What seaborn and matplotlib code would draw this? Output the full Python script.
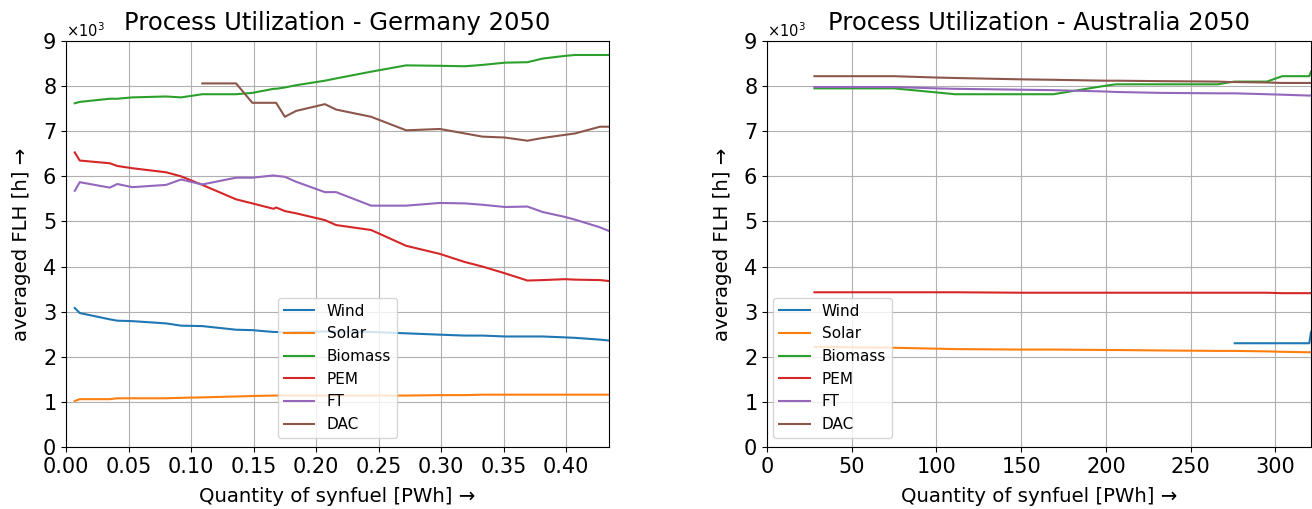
import numpy as np
import pandas as pd
import matplotlib
matplotlib.use("Agg")
import matplotlib.pyplot as plt
import matplotlib.ticker as mticker
import seaborn as sns

nan = np.nan
technologies = ["Wind", "Solar", "Biomass", "PEM", "FT", "DAC"]

# ---------------- Germany 2050 ----------------
x_de = [0.007, 0.011, 0.035, 0.041, 0.053, 0.080, 0.092, 0.109, 0.136, 0.149,
        0.166, 0.168, 0.175, 0.184, 0.207, 0.216, 0.244, 0.272, 0.299, 0.319,
        0.333, 0.351, 0.369, 0.381, 0.399, 0.407, 0.427, 0.434]
wind_de = [3080, 2970, 2830, 2800, 2790, 2740, 2690, 2680, 2600, 2590,
           2550, 2550, 2540, 2550, 2560, 2560, 2550, 2520, 2490, 2470,
           2470, 2450, 2450, 2450, 2430, 2420, 2380, 2360]
solar_de = [1020, 1060, 1060, 1080, 1080, 1080, 1090, 1100, 1120, 1130,
            1140, 1140, 1140, 1140, 1140, 1140, 1140, 1140, 1150, 1150,
            1160, 1160, 1160, 1160, 1160, 1160, 1160, 1160]
biomass_de = [7620, 7650, 7720, 7720, 7750, 7770, 7750, 7820, 7820, 7850,
              7940, 7940, 7970, 8020, 8120, 8170, 8320, 8460, 8450, 8440,
              8470, 8520, 8530, 8610, 8670, 8690, 8690, 8690]
pem_de = [6530, 6350, 6290, 6230, 6180, 6090, 6000, 5810, 5490, 5400,
          5280, 5310, 5230, 5180, 5030, 4920, 4810, 4460, 4280, 4100,
          4000, 3850, 3690, 3700, 3720, 3710, 3700, 3680]
ft_de = [5680, 5870, 5750, 5830, 5760, 5810, 5930, 5820, 5970, 5970,
         6020, 6010, 5990, 5880, 5650, 5650, 5350, 5350, 5410, 5400,
         5370, 5320, 5330, 5210, 5100, 5040, 4870, 4790]
dac_de = [nan, nan, nan, nan, nan, nan, nan, 8060, 8060, 7630,
          7630, 7630, 7320, 7450, 7600, 7480, 7320, 7020, 7050, 6950,
          6880, 6860, 6790, 6850, 6920, 6950, 7100, 7100]

# ---------------- Australia 2050 ----------------
x_au = [28, 75, 100, 111, 150, 169, 200, 206, 232, 266, 274, 276, 295, 304, 320, 321]
wind_au = [nan, nan, nan, nan, nan, nan, nan, nan, nan, nan, nan,
           2300, 2300, 2300, 2300, 2550]
solar_au = [2220, 2200, 2180, 2170, 2160, 2160, 2150, 2150, 2140, 2130, 2130,
            2130, 2120, 2110, 2100, 2100]
biomass_au = [7950, 7950, 7860, 7820, 7820, 7820, 8010, 8040, 8040, 8040, 8090,
              8100, 8100, 8220, 8220, 8320]
pem_au = [3430, 3430, 3430, 3430, 3420, 3420, 3420, 3420, 3420, 3420, 3420,
          3420, 3420, 3410, 3410, 3410]
ft_au = [7980, 7980, 7950, 7940, 7920, 7910, 7880, 7870, 7850, 7840, 7840,
         7840, 7820, 7810, 7790, 7790]
dac_au = [8220, 8220, 8190, 8180, 8150, 8140, 8120, 8120, 8110, 8100, 8090,
          8090, 8080, 8070, 8070, 8070]

titles = ["Process Utilization - Germany 2050", "Process Utilization - Australia 2050"]
xlabel = "Quantity of synfuel [PWh] \u2192"
ylabel = "averaged FLH [h] \u2192"


def long_frame(x, series):
    rows = []
    for tech, vals in zip(technologies, series):
        for xi, yi in zip(x, vals):
            if not np.isnan(yi):
                rows.append({"x": xi, "FLH": yi, "Technology": tech})
    return pd.DataFrame(rows)


df_de = long_frame(x_de, [wind_de, solar_de, biomass_de, pem_de, ft_de, dac_de])
df_au = long_frame(x_au, [wind_au, solar_au, biomass_au, pem_au, ft_au, dac_au])

plt.rcParams["font.family"] = ["DejaVu Sans"]
fig = plt.figure(figsize=(13.12, 5.09), dpi=100)
W, H = 1312, 509
ax1 = fig.add_axes([66 / W, 62 / H, 543 / W, 406 / H])
ax2 = fig.add_axes([767 / W, 62 / H, 544 / W, 406 / H])

palette = dict(zip(technologies, sns.color_palette("tab10", 6)))

for ax, df, title, xmax, xticks, legx in [
    (ax1, df_de, titles[0], 0.4342, np.arange(0, 0.41, 0.05), 0.390),
    (ax2, df_au, titles[1], 321, np.arange(0, 301, 50), 0.011),
]:
    sns.lineplot(data=df, x="x", y="FLH", hue="Technology", hue_order=technologies,
                 palette=palette, ax=ax, linewidth=1.5, errorbar=None)
    ax.set_xlim(0, xmax)
    ax.set_ylim(0, 9000)
    ax.set_xticks(xticks)
    ax.set_yticks(np.arange(0, 9001, 1000))
    if ax is ax1:
        ax.xaxis.set_major_formatter(mticker.FormatStrFormatter("%.2f"))
    fmt = mticker.ScalarFormatter(useMathText=True)
    fmt.set_powerlimits((3, 3))
    ax.yaxis.set_major_formatter(fmt)
    ax.yaxis.get_offset_text().set_fontsize(10.5)
    ax.tick_params(axis="both", labelsize=15)
    ax.grid(True, color="#b0b0b0", linewidth=0.8)
    ax.set_axisbelow(True)
    ax.set_title(title, fontsize=17.5, pad=8)
    ax.set_xlabel(xlabel, fontsize=14.2, labelpad=7.5)
    ax.set_ylabel(ylabel, fontsize=14.2, labelpad=8)
    handles, labels = ax.get_legend_handles_labels()
    ax.legend(handles, labels, loc="lower left", bbox_to_anchor=(legx, 0.022),
              borderaxespad=0, fontsize=11, title=None)

fig.savefig("out.png", dpi=100)
